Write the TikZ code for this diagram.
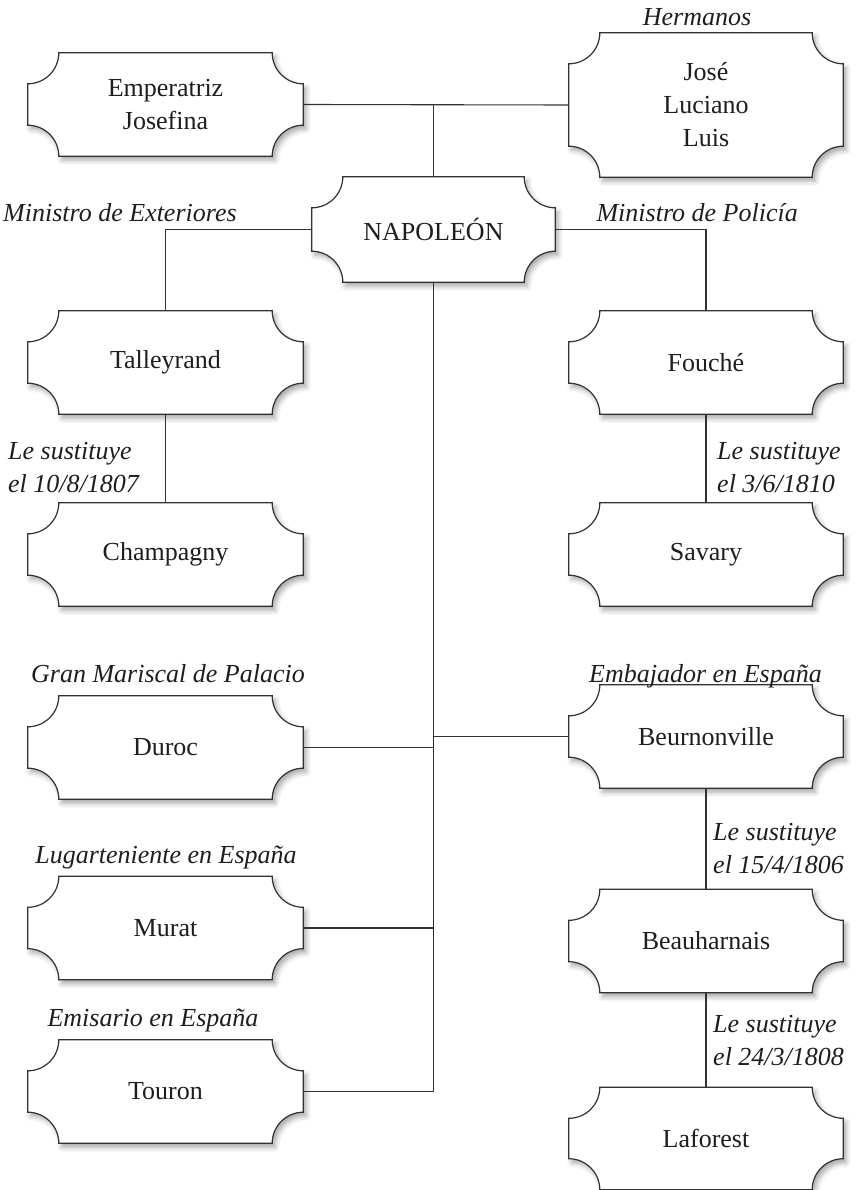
\documentclass[tikz,border=0pt]{standalone}
\usepackage{fontspec}
\setmainfont{Liberation Serif}
\usetikzlibrary{calc,shadows.blur}
\definecolor{linec}{RGB}{50,50,50}
\definecolor{textc}{RGB}{30,30,30}
\pgfdeclarelayer{bg}
\pgfsetlayers{bg,main}
\tikzset{
  boxtext/.style={inner sep=0pt, align=center, text=textc, font=\fontsize{26}{33}\selectfont, minimum width=275pt, minimum height=103pt},
  lbl/.style={inner sep=0pt, text=textc, font=\fontsize{26}{33}\selectfont\itshape, align=left},
  conn/.style={draw=linec, line width=1.1pt},
  boxline/.style={draw=linec, line width=1.2pt, fill=white,
    blur shadow={shadow xshift=3pt, shadow yshift=-4pt, shadow blur radius=5pt, shadow opacity=35}},
}
\newcommand\cornerbox[2][31]{%
  \path[boxline] ($(#2.north west)+(#1,0)$) -- ($(#2.north east)+(-#1,0)$)
    arc[start angle=180,end angle=270,radius=#1pt]
    -- ($(#2.south east)+(0,#1)$)
    arc[start angle=90,end angle=180,radius=#1pt]
    -- ($(#2.south west)+(#1,0)$)
    arc[start angle=0,end angle=90,radius=#1pt]
    -- ($(#2.north west)+(0,-#1)$)
    arc[start angle=270,end angle=360,radius=#1pt]
    -- cycle;}
\begin{document}
\begin{tikzpicture}[x=1pt,y=1pt]
\useasboundingbox (0,0) rectangle (855,-1190);
% boxes (text)
\node[boxtext] (emp) at (165.5,-104.5) {Emperatriz\\Josefina};
\node[boxtext, minimum width=274pt, minimum height=144pt] (herm) at (706,-105) {José\\Luciano\\Luis};
\node[boxtext, minimum width=243pt, minimum height=105pt] (nap) at (433.5,-229.5) {NAPOLEÓN};
\node[boxtext] (tal) at (165.5,-362.5) {Talleyrand};
\node[boxtext] (cha) at (165.5,-554.5) {Champagny};
\node[boxtext, minimum width=274pt] (fou) at (706,-362.5) {Fouché};
\node[boxtext, minimum width=274pt] (sav) at (706,-554.5) {Savary};
\node[boxtext] (dur) at (165.5,-747.5) {Duroc};
\node[boxtext, minimum width=274pt] (beu) at (706,-736.5) {Beurnonville};
\node[boxtext] (mur) at (165.5,-928) {Murat};
\node[boxtext, minimum width=274pt] (bea) at (706,-941) {Beauharnais};
\node[boxtext] (tou) at (165.5,-1091.5) {Touron};
\node[boxtext, minimum width=274pt, minimum height=102pt] (laf) at (706,-1138.5) {Laforest};
\begin{pgfonlayer}{bg}
\foreach \n in {emp,herm,nap,tal,cha,fou,sav,dur,beu,mur,bea,tou,laf}{\cornerbox{\n}}
\end{pgfonlayer}
% connectors
\draw[conn] (emp.east) -- (herm.west);
\draw[conn] (nap.north) -- (nap.north |- emp.east);
\draw[conn] (nap.west) -| (tal.north);
\draw[conn] (nap.east) -| (fou.north);
\draw[conn] (tal.south) -- (cha.north);
\draw[conn] (fou.south) -- (sav.north);
\coordinate (trunkend) at (nap.south |- tou.east);
\draw[conn] (nap.south) -- (trunkend) -- (tou.east);
\draw[conn] (dur.east) -- (nap.south |- dur.east);
\draw[conn] (mur.east) -- (nap.south |- mur.east);
\draw[conn] (beu.west) -- (nap.south |- beu.west);
\draw[conn] (beu.south) -- (bea.north);
\draw[conn] (bea.south) -- (laf.north);
% labels
\node[lbl, anchor=base] (lherm) at (697,-26) {Hermanos};
\node[lbl, anchor=base west] (lext) at (3,-222) {Ministro de Exteriores};
\node[lbl, anchor=base east] (lpol) at (798,-222) {Ministro de Policía};
\node[lbl, anchor=west] (lsus1) at (8,-468) {Le sustituye\\el 10/8/1807};
\node[lbl, anchor=west] (lsus2) at (717,-468) {Le sustituye\\el 3/6/1810};
\node[lbl, anchor=base] (lgran) at (168,-682) {Gran Mariscal de Palacio};
\node[lbl, anchor=base] (lemb) at (705.5,-682) {Embajador en España};
\node[lbl, anchor=west] (lsus3) at (713,-849) {Le sustituye\\el 15/4/1806};
\node[lbl, anchor=base] (llug) at (166,-863) {Lugarteniente en España};
\node[lbl, anchor=base] (lemi) at (153,-1026) {Emisario en España};
\node[lbl, anchor=west] (lsus4) at (713,-1041) {Le sustituye\\el 24/3/1808};
\end{tikzpicture}
\end{document}
